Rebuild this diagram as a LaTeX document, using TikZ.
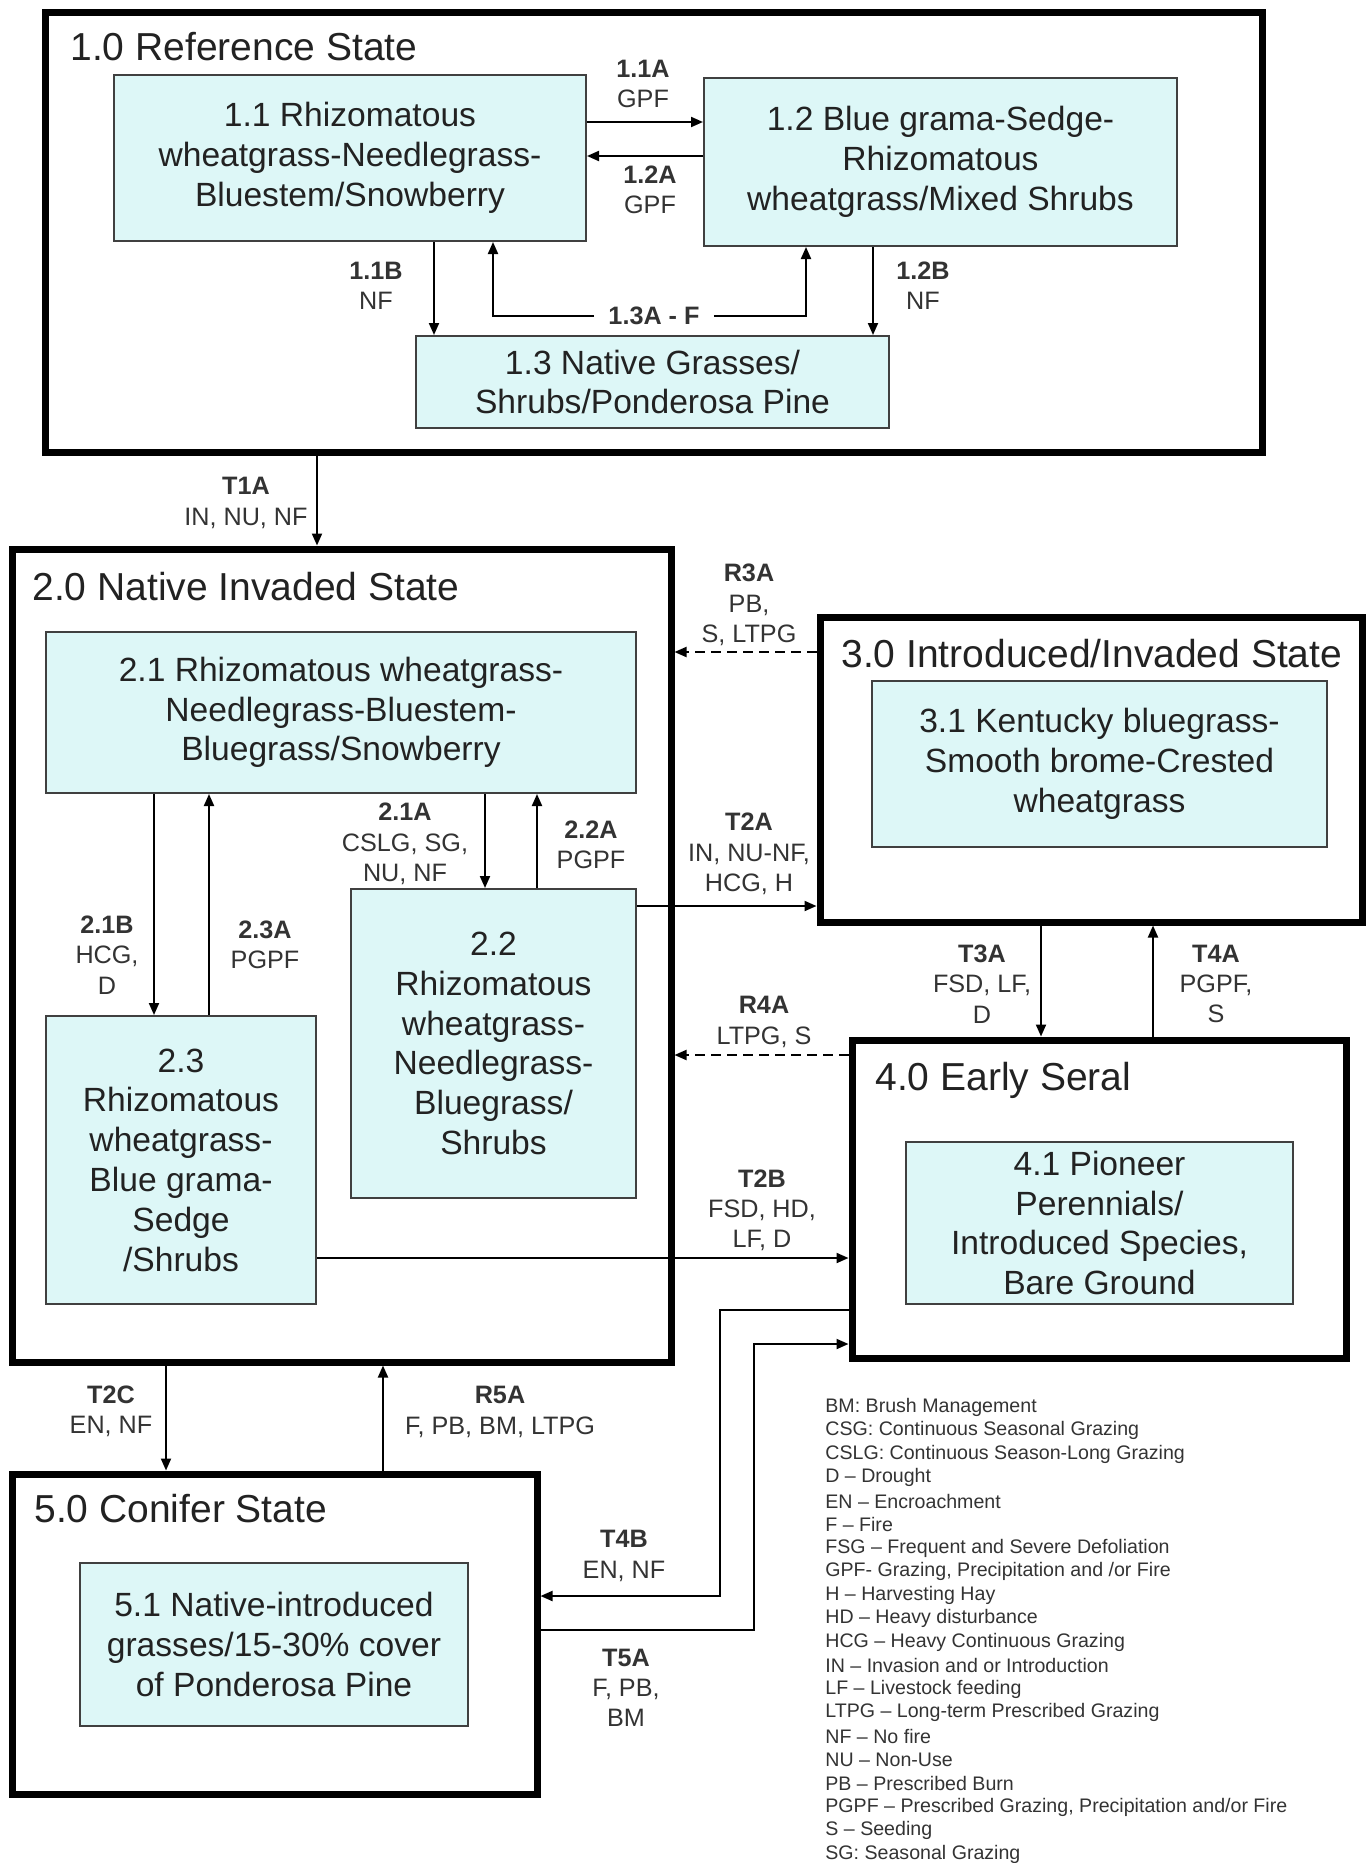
\documentclass[tikz,border=0pt]{standalone}
\usepackage{fontspec}
\setmainfont{Liberation Sans}
\usepackage{tikz}
\usetikzlibrary{arrows.meta}
\definecolor{commfill}{HTML}{DDF7F7}
\definecolor{inkgray}{HTML}{222222}
\definecolor{lblgray}{HTML}{333333}

\tikzset{
  statebox/.style={draw=black, line width=3.5pt, inner sep=0pt},
  commbox/.style={draw=black!75, line width=1pt, fill=commfill, align=center,
    font=\fontsize{16.8}{19.9}\selectfont, text=inkgray, inner sep=2pt},
  statetitle/.style={anchor=base west, inner sep=0pt,
    font=\fontsize{19.5}{23}\selectfont, text=inkgray},
  lbl/.style={align=center, inner sep=1pt,
    font=\fontsize{12.6}{15.1}\selectfont, text=lblgray},
  arr/.style={line width=1pt, -{Triangle[length=6pt,width=5pt]}},
  legtext/.style={anchor=west, inner sep=0pt,
    font=\fontsize{9.8}{11.8}\selectfont, text=lblgray}
}

\begin{document}
\begin{tikzpicture}[x=0.5pt, y=-0.5pt]
    \useasboundingbox (0,0) rectangle (1369,1863);

    % states
    \node (s1) at (653.5,232) [statebox, minimum width=608.5pt, minimum height=220pt] {};
    \node (s2) at (341.5,955.5) [statebox, minimum width=329.5pt, minimum height=406.5pt] {};
    \node (s3) at (1091,769.5) [statebox, minimum width=271pt, minimum height=152.5pt] {};
    \node (s4) at (1099,1199) [statebox, minimum width=247pt, minimum height=159pt] {};
    \node (s5) at (274.5,1634) [statebox, minimum width=262.5pt, minimum height=160pt] {};
    \node (s1t) at (70,61) [statetitle] {1.0 Reference State};
    \node (s2t) at (32,600) [statetitle] {2.0 Native Invaded State};
    \node (s3t) at (841,667) [statetitle] {3.0 Introduced/Invaded State};
    \node (s4t) at (875,1090) [statetitle] {4.0 Early Seral};
    \node (s5t) at (34,1522) [statetitle] {5.0 Conifer State};

    % communities
    \node (c11) at (350,158) [commbox, minimum width=236pt, minimum height=83pt]
      {1.1 Rhizomatous\\wheatgrass-Needlegrass-\\Bluestem/Snowberry};
    \node (c12) at (940.5,162) [commbox, minimum width=236.5pt, minimum height=84pt]
      {1.2 Blue grama-Sedge-\\Rhizomatous\\wheatgrass/Mixed Shrubs};
    \node (c13) at (652.5,382) [commbox, minimum width=236.5pt, minimum height=46pt]
      {1.3 Native Grasses/\\Shrubs/Ponderosa Pine};
    \node (c21) at (341,712.5) [commbox, minimum width=295pt, minimum height=80.5pt]
      {2.1 Rhizomatous wheatgrass-\\Needlegrass-Bluestem-\\Bluegrass/Snowberry};
    \node (c22) at (493.5,1043.5) [commbox, minimum width=142.5pt, minimum height=154.5pt]
      {2.2\\Rhizomatous\\wheatgrass-\\Needlegrass-\\Bluegrass/\\Shrubs};
    \node (c23) at (181,1160) [commbox, minimum width=135pt, minimum height=144pt]
      {2.3\\Rhizomatous\\wheatgrass-\\Blue grama-\\Sedge\\/Shrubs};
    \node (c31) at (1099.5,764) [commbox, minimum width=227.5pt, minimum height=83pt]
      {3.1 Kentucky bluegrass-\\Smooth brome-Crested\\wheatgrass};
    \node (c41) at (1099.5,1223) [commbox, minimum width=193.5pt, minimum height=81pt]
      {4.1 Pioneer\\Perennials/\\Introduced Species,\\Bare Ground};
    \node (c51) at (274,1644.5) [commbox, minimum width=194pt, minimum height=81.5pt]
      {5.1 Native-introduced\\grasses/15-30\% cover\\of Ponderosa Pine};

    % pathway and transition labels
    \node (l11a) at (643,84) [lbl] {\textbf{1.1A}\\GPF};
    \node (l12a) at (650,190) [lbl] {\textbf{1.2A}\\GPF};
    \node (l11b) at (376,286) [lbl] {\textbf{1.1B}\\NF};
    \node (l12b) at (923,286) [lbl] {\textbf{1.2B}\\NF};
    \node (l13a) at (654,316) [lbl, inner xsep=7pt] {\textbf{1.3A - F}};
    \node (lt1a) at (246,503) [lbl] {\textbf{T1A}\\IN, NU, NF};
    \node (l21b) at (107,955) [lbl] {\textbf{2.1B}\\HCG,\\D};
    \node (l23a) at (265,945) [lbl] {\textbf{2.3A}\\PGPF};
    \node (l21a) at (405,844) [lbl] {\textbf{2.1A}\\CSLG, SG,\\NU, NF};
    \node (l22a) at (591,845) [lbl] {\textbf{2.2A}\\PGPF};
    \node (lt2a) at (749,854) [lbl] {\textbf{T2A}\\IN, NU-NF,\\HCG, H};
    \node (lr3a) at (749,605) [lbl] {\textbf{R3A}\\PB,\\S, LTPG};
    \node (lt3a) at (982,984) [lbl] {\textbf{T3A}\\FSD, LF,\\D};
    \node (lt4a) at (1216,984) [lbl] {\textbf{T4A}\\PGPF,\\S};
    \node (lr4a) at (764,1022) [lbl] {\textbf{R4A}\\LTPG, S};
    \node (lt2b) at (762,1210) [lbl] {\textbf{T2B}\\FSD, HD,\\LF, D};
    \node (lt2c) at (111,1411) [lbl] {\textbf{T2C}\\EN, NF};
    \node (lr5a) at (500,1412) [lbl] {\textbf{R5A}\\F, PB, BM, LTPG};
    \node (lt4b) at (624,1556) [lbl] {\textbf{T4B}\\EN, NF};
    \node (lt5a) at (626,1688) [lbl] {\textbf{T5A}\\F, PB,\\BM};

    % pathways in 1.0
    \draw[arr] (c11.east |- 0,122) -- (c12.west |- 0,122);
    \draw[arr] (c12.west |- 0,156) -- (c11.east |- 0,156);
    \draw[arr] (c11.south -| 434,0) -- (c13.north -| 434,0);
    \draw[arr] (c12.south -| 873,0) -- (c13.north -| 873,0);
    \draw[arr] (l13a.west) -| (c11.south -| 493,0);
    \draw[arr] (l13a.east) -| (c12.south -| 806,0);

    % pathways in 2.0
    \draw[arr] (c21.south -| 154,0) -- (c23.north -| 154,0);
    \draw[arr] (c23.north -| 209,0) -- (c21.south -| 209,0);
    \draw[arr] (c21.south -| 485,0) -- (c22.north -| 485,0);
    \draw[arr] (c22.north -| 537,0) -- (c21.south -| 537,0);

    % transitions and restorations
    \draw[arr] (s1.south -| 317,0) -- (s2.north -| 317,0);
    \draw[arr] (c22.east |- 0,906) -- (s3.west |- 0,906);
    \draw[arr, dash pattern=on 5pt off 3pt] (s3.west |- 0,652) -- (s2.east |- 0,652);
    \draw[arr] (s3.south -| 1041,0) -- (s4.north -| 1041,0);
    \draw[arr] (s4.north -| 1153,0) -- (s3.south -| 1153,0);
    \draw[arr, dash pattern=on 5pt off 3pt] (s4.west |- 0,1055) -- (s2.east |- 0,1055);
    \draw[arr] (c23.east |- 0,1258) -- (s4.west |- 0,1258);
    \draw[arr] (s2.south -| 166,0) -- (s5.north -| 166,0);
    \draw[arr] (s5.north -| 383,0) -- (s2.south -| 383,0);
    \draw[arr] (s4.west |- 0,1310) -- (720,1310) -- (720,1596) -- (s5.east |- 0,1596);
    \draw[arr] (s5.east |- 0,1630) -- (754,1630) -- (754,1344) -- (s4.west |- 0,1344);

    % legend
    \foreach \txt [count=\i from 0] in {{BM: Brush Management},
        {CSG: Continuous Seasonal Grazing}, {CSLG: Continuous Season-Long Grazing},
        {D -- Drought}, {EN -- Encroachment}, {F -- Fire},
        {FSG -- Frequent and Severe Defoliation},
        {GPF- Grazing, Precipitation and /or Fire}, {H -- Harvesting Hay},
        {HD -- Heavy disturbance}, {HCG -- Heavy Continuous Grazing},
        {IN -- Invasion and or Introduction}, {LF -- Livestock feeding},
        {LTPG -- Long-term Prescribed Grazing}, {NF -- No fire}, {NU -- Non-Use},
        {PB -- Prescribed Burn},
        {PGPF -- Prescribed Grazing, Precipitation and/or Fire},
        {S -- Seeding}, {SG: Seasonal Grazing}} {
      \node (leg\i) at (825,{1407+23.53*\i}) [legtext] {\txt};
    }
  \end{tikzpicture}
\end{document}
